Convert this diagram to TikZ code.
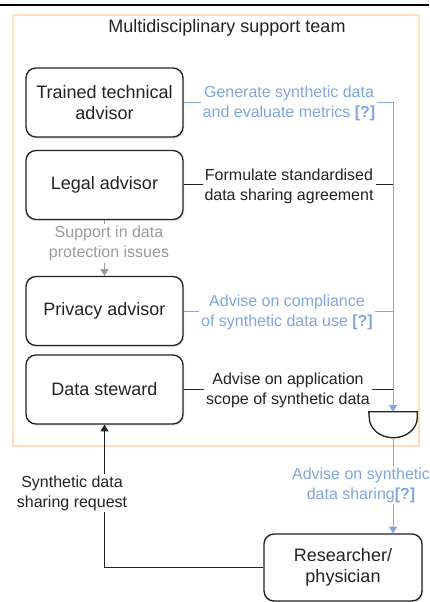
\documentclass[tikz,border=0pt]{standalone}
\usepackage{fontspec}
\setmainfont{Liberation Sans}
\usetikzlibrary{arrows.meta,shadows}
\definecolor{teamorange}{HTML}{FFDDB8}
\definecolor{adviceblue}{HTML}{7EA6E0}
\definecolor{supportgray}{HTML}{9A9A9A}
\definecolor{inkdark}{HTML}{222222}
\begin{document}
\begin{tikzpicture}[x=0.75pt,y=-0.75pt,
  role/.style={draw=inkdark, line width=1pt, rounded corners=7.5pt, fill=white,
    minimum width=117.75pt, minimum height=51.75pt, align=center,
    font=\fontsize{13.5}{16}\selectfont, text=inkdark,
    drop shadow={shadow xshift=1pt, shadow yshift=-1.2pt, opacity=0.2}},
  tasklabel/.style={fill=white, align=center, inner sep=1.5pt,
    font=\fontsize{12}{15}\selectfont},
  bluelink/.style={draw=adviceblue, line width=0.75pt},
  blacklink/.style={draw=inkdark, line width=0.75pt},
  arrowtip/.style={-{Triangle[width=6pt,length=5pt]}}
]
\useasboundingbox (0,0) rectangle (429,602);

% top rule
\draw[line width=1.7pt, black] (0,5) -- (429,5);

% team frame
\node[draw=teamorange, line width=0.8pt, minimum width=304.5pt, minimum height=323.25pt,
  inner sep=0pt] (team) at (216,230.5) {};
\node[font=\fontsize{13.5}{16}\selectfont, text=inkdark] (teamtitle) at (227,28)
  {Multidisciplinary support team};

% roles
\node[role] (tta) at (104.5,102.5) {Trained technical\\advisor};
\node[role] (la)  at (104.5,185)   {Legal advisor};
\node[role] (pa)  at (104.5,311)   {Privacy advisor};
\node[role] (ds)  at (104.5,389.5) {Data steward};
\node[role, minimum width=118.5pt, minimum height=50.25pt] (rp) at (343,567.5)
  {Researcher/\\physician};

% joining gate
\node[minimum width=36pt, minimum height=19.5pt, inner sep=0pt] (gate) at (393,425) {};
\draw[draw=inkdark, line width=1pt] (gate.north west) -- (gate.north east) -- ++(0,6)
  .. controls +(0,11) and +(13.2,0) .. ++(-24,20)
  .. controls +(-13.2,0) and +(0,11) .. ++(-24,-20) -- cycle;

% junction points on the collecting line
\coordinate (jt) at (393,102.5);
\coordinate (jl) at (393,185);
\coordinate (jp) at (393,311);
\coordinate (jd) at (393,389.5);

% role contributions
\draw[bluelink, arrowtip] (tta.east) -- (jt) -- (gate.north);
\draw[blacklink] (la.east) -- (jl);
\draw[bluelink] (pa.east) -- (jp);
\draw[blacklink] (ds.east) -- (jd);

\node[tasklabel, text=adviceblue] (lt) at (289,103)
  {Generate synthetic data\\and evaluate metrics \textbf{[?]}};
\node[tasklabel, text=inkdark] (ll) at (289,186)
  {Formulate standardised\\data sharing agreement};
\node[tasklabel, text=adviceblue] (lp) at (287,312)
  {Advise on compliance\\of synthetic data use \textbf{[?]}};
\node[tasklabel, text=inkdark] (ld) at (288,390)
  {Advise on application\\scope of synthetic data};

% legal to privacy support
\draw[draw=supportgray, line width=0.75pt, arrowtip] (la.south) -- (pa.north);
\node[tasklabel, text=supportgray] (ls) at (109,243.5)
  {Support in data\\protection issues};

% advice to the researcher
\draw[bluelink, arrowtip] (gate.south) -- (gate.south |- rp.north);
\node[tasklabel, text=adviceblue] (lr) at (361,485)
  {Advise on synthetic\\data sharing\textbf{[?]}};

% request from the researcher
\draw[blacklink, arrowtip] (rp.west) -| (ds.south);
\node[tasklabel, text=inkdark] (lq) at (72,493)
  {Synthetic data\\sharing request};
\end{tikzpicture}
\end{document}
